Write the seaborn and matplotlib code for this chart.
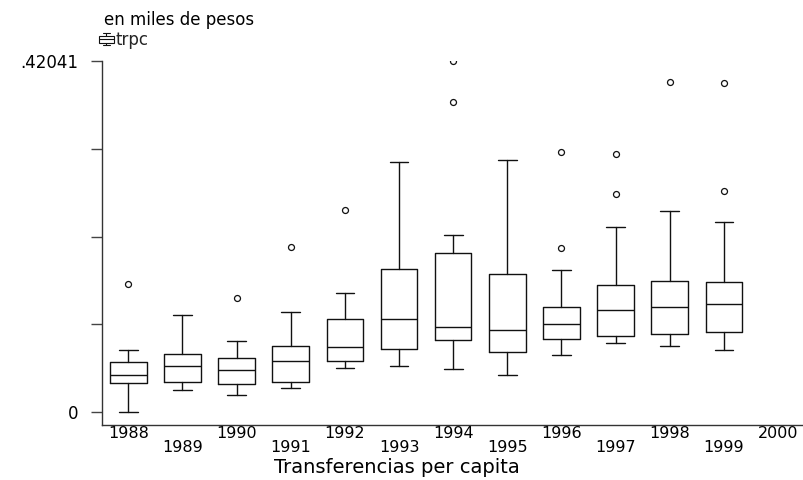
import numpy as np
import matplotlib
matplotlib.use("Agg")
import matplotlib.pyplot as plt
import seaborn as sns
from matplotlib.legend_handler import HandlerBase
from matplotlib.patches import Rectangle
from matplotlib.lines import Line2D

# ---------------- data ----------------
years = ["1988", "1989", "1990", "1991", "1992", "1993",
         "1994", "1995", "1996", "1997", "1998", "1999"]
axis_labels = years + ["2000"]

q1 = [0.0344, 0.0363, 0.0332, 0.0356, 0.0611, 0.0751,
      0.0859, 0.0722, 0.0878, 0.0907, 0.0931, 0.0955]
med = [0.0447, 0.0551, 0.0503, 0.0607, 0.0779, 0.1110,
       0.1022, 0.0978, 0.1058, 0.1222, 0.1254, 0.1294]
q3 = [0.0595, 0.0695, 0.0647, 0.0794, 0.1110, 0.1717,
      0.1900, 0.1649, 0.1254, 0.1525, 0.1573, 0.1561]
whis_lo = [0.0000, 0.0260, 0.0207, 0.0284, 0.0527, 0.0551,
           0.0511, 0.0447, 0.0686, 0.0823, 0.0790, 0.0743]
whis_hi = [0.0746, 0.1165, 0.0847, 0.1194, 0.1422, 0.2994,
           0.2116, 0.3022, 0.1705, 0.2220, 0.2411, 0.2279]
outliers = [[0.153], [], [0.1369], [0.1976], [0.2419], [],
            [0.42041, 0.3713], [], [0.311, 0.1964], [0.309, 0.2611],
            [0.3953], [0.3937, 0.2647]]

y_max = 0.42041
ytick_labels = ["0", "", "", "", ".42041"]

series_name = "trpc"
y_title = "en miles de pesos"
x_title = "Transferencias per capita"

# ---------------- style ----------------
sns.set_theme(style="white")
plt.rcParams["font.family"] = ["DejaVu Sans"]

W, H = 804, 480
fig = plt.figure(figsize=(W / 100, H / 100), dpi=100)
fig.patch.set_facecolor("white")
ax = fig.add_axes([102 / W, 55 / H, 702 / W, 364 / H])
ax.set_facecolor("white")

stats = []
for i, y in enumerate(years):
    stats.append(dict(label=y, q1=q1[i], med=med[i], q3=q3[i],
                      whislo=whis_lo[i], whishi=whis_hi[i],
                      fliers=outliers[i]))

lc = "#111111"
lw = 1.0
ax.bxp(stats, positions=np.arange(len(years)), widths=0.675,
       capwidths=0.345, showfliers=True, manage_ticks=False,
       boxprops=dict(color=lc, linewidth=lw),
       medianprops=dict(color=lc, linewidth=lw),
       whiskerprops=dict(color=lc, linewidth=lw),
       capprops=dict(color=lc, linewidth=lw),
       flierprops=dict(marker="o", markerfacecolor="none",
                       markeredgecolor=lc, markersize=4.3,
                       markeredgewidth=0.9))

ax.set_xlim(-0.486, 12.48)
ax.set_ylim(-0.01557, y_max)

# y axis
ax.set_yticks(np.linspace(0, y_max, 5))
ax.set_yticklabels(ytick_labels)
ax.tick_params(axis="y", which="major", left=True, length=8, width=1,
               color="#444444", pad=9, labelsize=12, labelcolor="black")

# x axis: alternating two rows
pos = np.arange(len(axis_labels))
ax.set_xticks(pos[::2])
ax.set_xticklabels(axis_labels[::2])
ax.set_xticks(pos[1::2], minor=True)
ax.set_xticklabels(axis_labels[1::2], minor=True)
ax.tick_params(axis="x", which="major", bottom=True, length=0, pad=1.0,
               labelsize=11.5, labelcolor="black")
ax.tick_params(axis="x", which="minor", bottom=True, length=0, pad=11.0,
               labelsize=11.5, labelcolor="black")

for s in ["top", "right"]:
    ax.spines[s].set_visible(False)
for s in ["left", "bottom"]:
    ax.spines[s].set_color("#333333")
    ax.spines[s].set_linewidth(1.0)
ax.grid(False)

fig.text(397 / W, (H - 473) / H, x_title, ha="center", va="baseline",
         fontsize=14, color="black")
fig.text(104 / W, (H - 25) / H, y_title, ha="left", va="baseline",
         fontsize=12, color="black")


class BoxIconHandler(HandlerBase):
    def create_artists(self, legend, orig_handle, xdescent, ydescent,
                       width, height, fontsize, trans):
        x0, y0 = -xdescent, -ydescent
        cx = x0 + width / 2
        arts = [
            Rectangle((x0, y0 + 0.22 * height), width, 0.56 * height,
                      fill=False, ec=lc, lw=0.8, transform=trans),
            Line2D([x0, x0 + width], [y0 + 0.5 * height] * 2,
                   color=lc, lw=0.8, transform=trans),
            Line2D([cx, cx], [y0, y0 + 0.22 * height],
                   color=lc, lw=0.8, transform=trans),
            Line2D([cx, cx], [y0 + 0.78 * height, y0 + height],
                   color=lc, lw=0.8, transform=trans),
            Line2D([x0 + 0.25 * width, x0 + 0.75 * width], [y0] * 2,
                   color=lc, lw=0.8, transform=trans),
            Line2D([x0 + 0.25 * width, x0 + 0.75 * width],
                   [y0 + height] * 2, color=lc, lw=0.8, transform=trans),
        ]
        return arts


proxy = Rectangle((0, 0), 1, 1)
fig.legend([proxy], [series_name], handler_map={Rectangle: BoxIconHandler()},
           loc="upper left", bbox_to_anchor=(99 / W, 1 - 31 / H),
           bbox_transform=fig.transFigure, frameon=False, fontsize=12,
           handlelength=0.9, handleheight=0.75, handletextpad=0.12,
           borderpad=0, borderaxespad=0)

fig.savefig("out.png", dpi=100, facecolor="white")
